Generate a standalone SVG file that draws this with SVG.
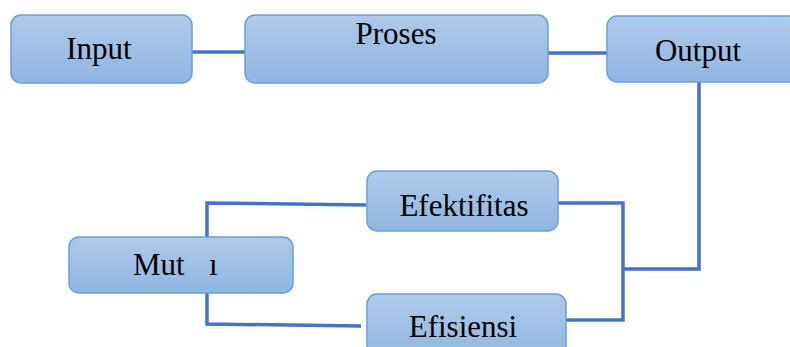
<svg xmlns="http://www.w3.org/2000/svg" width="790" height="347" viewBox="0 0 790 347">
<defs>
<linearGradient id="g" x1="0" y1="0" x2="0" y2="1">
<stop offset="0" stop-color="#afcaea"/>
<stop offset="1" stop-color="#8fb5e1"/>
</linearGradient>
<style>
.box{fill:url(#g);stroke:#6a9fd8;stroke-width:1.5}
.t{font-family:"Liberation Serif",serif;font-size:31px;fill:#000}
.c{fill:none;stroke:#4472c4;stroke-width:3.5}
</style>
</defs>
<rect width="790" height="347" fill="#fff"/>
<g id="connectors">
<path class="c" d="M192 52 H245" stroke-width="4"/>
<path class="c" d="M548 53 H612"/>
<path class="c" d="M699 80 V269 H623"/>
<path class="c" d="M557 203 H623 V320 H565"/>
<path class="c" d="M366 205 L207 203 V240"/>
<path class="c" d="M207 290 V324 L361 326"/>
</g>
<g id="input">
<rect class="box" x="11" y="15" width="181" height="68" rx="10"/>
<text class="t" x="99" y="59" text-anchor="middle">Input</text>
</g>
<g id="proses">
<rect class="box" x="245" y="15" width="303" height="68" rx="10"/>
<text class="t" x="396" y="44" text-anchor="middle">Proses</text>
</g>
<g id="output">
<rect class="box" x="607" y="16" width="200" height="66" rx="10"/>
<text class="t" x="698" y="61" text-anchor="middle">Output</text>
</g>
<g id="efektifitas">
<rect class="box" x="367" y="171" width="191" height="60" rx="10"/>
<text class="t" x="464" y="216" text-anchor="middle">Efektifitas</text>
</g>
<g id="efisiensi">
<rect class="box" x="367" y="294" width="199" height="70" rx="10"/>
<text class="t" x="463" y="337" text-anchor="middle">Efisiensi</text>
</g>
<g id="mutu">
<rect class="box" x="69" y="237" width="224" height="56" rx="10"/>
<text class="t" x="133" y="275">Mut</text>
<text class="t" x="209" y="275">ı</text>
</g>
</svg>
